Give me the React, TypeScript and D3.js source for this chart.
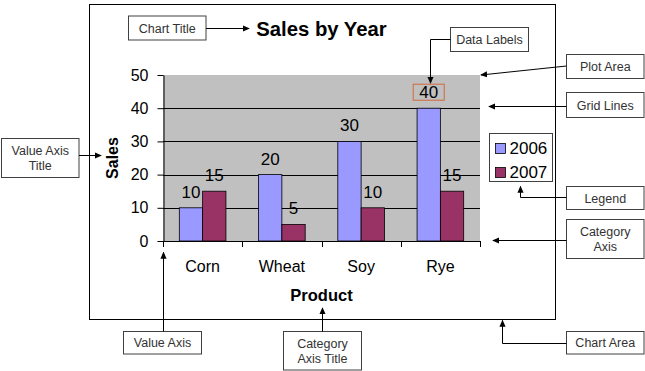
import React, { useEffect, useRef } from 'react';
import * as d3 from 'd3';

// chart data
const categories = ['Corn', 'Wheat', 'Soy', 'Rye'];
const seriesNames = ['2006', '2007'];
const sales2006 = [10, 20, 30, 40];
const sales2007 = [15, 5, 10, 15];
const yTicks = [0, 10, 20, 30, 40, 50];
const gridTicks = [10, 20, 30, 40];
const seriesColors = ['#9999FF', '#993366'];

// annotation callouts around the chart
const callouts = [
  { lines: ['Chart Title'], box: [128.5, 16, 77.5, 24], path: [[206, 28.5], [249, 28.5]] },
  { lines: ['Value Axis', 'Title'], box: [1.5, 138.5, 77.5, 39], path: [[79, 155.5], [101, 155.5]] },
  { lines: ['Data Labels'], box: [450.5, 27.5, 78, 24], path: [[450.5, 39.5], [430.5, 39.5], [430.5, 83]] },
  { lines: ['Plot Area'], box: [566.5, 54.5, 77.5, 24], path: [[566.5, 66], [481, 75]] },
  { lines: ['Grid Lines'], box: [566.5, 92.5, 77.5, 25], path: [[566.5, 106.5], [489, 106.5]] },
  { lines: ['Legend'], box: [566.5, 186.5, 77.5, 23], path: [[566.5, 197.5], [520.5, 197.5], [520.5, 186.5]] },
  { lines: ['Category', 'Axis'], box: [566.5, 219.5, 77.5, 39], path: [[566.5, 240.5], [493, 240.5]] },
  { lines: ['Chart Area'], box: [566.5, 331.5, 77.5, 22.5], path: [[566.5, 343.5], [502.5, 343.5], [502.5, 320.5]] },
  { lines: ['Value Axis'], box: [123.5, 331.5, 78, 22.5], path: [[163.5, 331.5], [163.5, 252.5]] },
  { lines: ['Category', 'Axis Title'], box: [283.5, 331.5, 78, 38.5], path: [[322.5, 331.5], [322.5, 308]] },
];

const font = "'Liberation Sans', Arial, sans-serif";

const plot = { left: 163, right: 480, top: 75, bottom: 241 };

const App = () => {
  const axisRef = useRef<SVGGElement>(null);

  const x = d3.scaleBand().domain(categories).range([plot.left, plot.right]).paddingInner(0).paddingOuter(0);
  const xs = d3.scaleBand().domain(seriesNames).range([0, x.bandwidth()]).paddingInner(0).paddingOuter(0.7);
  const y = d3.scaleLinear().domain([0, 50]).range([plot.bottom, plot.top]);

  const series = [sales2006, sales2007];

  useEffect(() => {
    if (axisRef.current) {
      const g = d3.select(axisRef.current);
      g.selectAll('*').remove();
      g.call(d3.axisLeft(y).tickValues(yTicks).tickSize(6).tickSizeOuter(0).tickPadding(9) as any);
      g.select('.domain').attr('stroke', '#000');
      g.selectAll('.tick line').attr('stroke', '#000');
      g.selectAll('.tick text')
        .attr('font-size', 16)
        .attr('font-family', font)
        .attr('fill', '#000');
    }
  }, []);

  const catTicks = [...categories.map(c => x(c) as number), plot.right];

  return (
    <svg width={645} height={371} style={{ position: 'absolute', left: 0, top: 0 }} fontFamily={font}>
      <defs>
        <marker id="arrow" viewBox="0 0 8 8" refX="7" refY="4" markerWidth="7" markerHeight="7" markerUnits="userSpaceOnUse" orient="auto">
          <path d="M0,0.5 L8,4 L0,7.5 Z" fill="#000" />
        </marker>
      </defs>
      <rect width={645} height={371} fill="#fff" />

      {/* chart area */}
      <rect x={89.5} y={4.5} width={466} height={315} fill="#fff" stroke="#000" />

      <text x={(plot.left + plot.right) / 2} y={35.5} textAnchor="middle" fontSize={20.3} fontWeight="bold">Sales by Year</text>

      {/* plot area */}
      <rect x={plot.left} y={plot.top} width={plot.right - plot.left} height={plot.bottom - plot.top} fill="#C0C0C0" />
      {gridTicks.map(t => (
        <line key={t} x1={plot.left} x2={plot.right} y1={Math.round(y(t)) + 0.5} y2={Math.round(y(t)) + 0.5} stroke="#000" />
      ))}

      {/* bars */}
      {series.map((vals, si) =>
        categories.map((c, ci) => {
          const bx = (x(c) as number) + (xs(seriesNames[si]) as number);
          return (
            <rect key={`${si}-${ci}`} x={bx} y={y(vals[ci])} width={xs.bandwidth()} height={y(0) - y(vals[ci])}
              fill={seriesColors[si]} stroke="#000" strokeWidth={0.8} />
          );
        })
      )}

      {/* data labels */}
      {series.map((vals, si) =>
        categories.map((c, ci) => {
          const cx = (x(c) as number) + (xs(seriesNames[si]) as number) + xs.bandwidth() / 2;
          const by = y(vals[ci]) - 10;
          const highlight = si === 0 && c === 'Rye';
          return (
            <g key={`l${si}-${ci}`}>
              {highlight && <rect x={cx - 15.5} y={by - 14} width={31} height={16} fill="none" stroke="#D0683A" />}
              <text x={cx} y={by} textAnchor="middle" fontSize={17}>{vals[ci]}</text>
            </g>
          );
        })
      )}

      {/* axes */}
      <g ref={axisRef} transform={`translate(${plot.left + 0.5},0)`} />
      <line x1={plot.left} x2={plot.right} y1={plot.bottom + 0.5} y2={plot.bottom + 0.5} stroke="#000" />
      {catTicks.map((t, i) => (
        <line key={i} x1={Math.round(t) + 0.5} x2={Math.round(t) + 0.5} y1={plot.bottom} y2={plot.bottom + 6} stroke="#000" />
      ))}
      {categories.map(c => (
        <text key={c} x={(x(c) as number) + x.bandwidth() / 2} y={272} textAnchor="middle" fontSize={16}>{c}</text>
      ))}

      <text transform={`translate(117.5,${(plot.top + plot.bottom) / 2}) rotate(-90)`} textAnchor="middle" fontSize={16} fontWeight="bold">Sales</text>
      <text x={(plot.left + plot.right) / 2} y={301} textAnchor="middle" fontSize={16.5} fontWeight="bold">Product</text>

      {/* legend */}
      <rect x={489.5} y={133.5} width={63} height={48} fill="#fff" stroke="#404040" />
      {seriesNames.map((s, i) => (
        <g key={s} transform={`translate(495,${143 + i * 24})`}>
          <rect x={0.5} y={0.5} width={10} height={10} fill={seriesColors[i]} stroke="#000" strokeWidth={0.8} />
          <text x={14.5} y={10.5} fontSize={17}>{s}</text>
        </g>
      ))}

      {/* callouts */}
      {callouts.map((c, i) => {
        const [bx, by, bw, bh] = c.box;
        const lh = 15;
        const startY = by + bh / 2 - ((c.lines.length - 1) * lh) / 2 + 4.5;
        return (
          <g key={i}>
            <rect x={bx} y={by} width={bw} height={bh} fill="#fff" stroke="#404040" />
            {c.lines.map((l, li) => (
              <text key={li} x={bx + bw / 2} y={startY + li * lh} textAnchor="middle" fontSize={12.5} fill="#333">{l}</text>
            ))}
            <polyline points={c.path.map(p => p.join(',')).join(' ')} fill="none" stroke="#000" strokeWidth={1} markerEnd="url(#arrow)" />
          </g>
        );
      })}
    </svg>
  );
};

export default App;
